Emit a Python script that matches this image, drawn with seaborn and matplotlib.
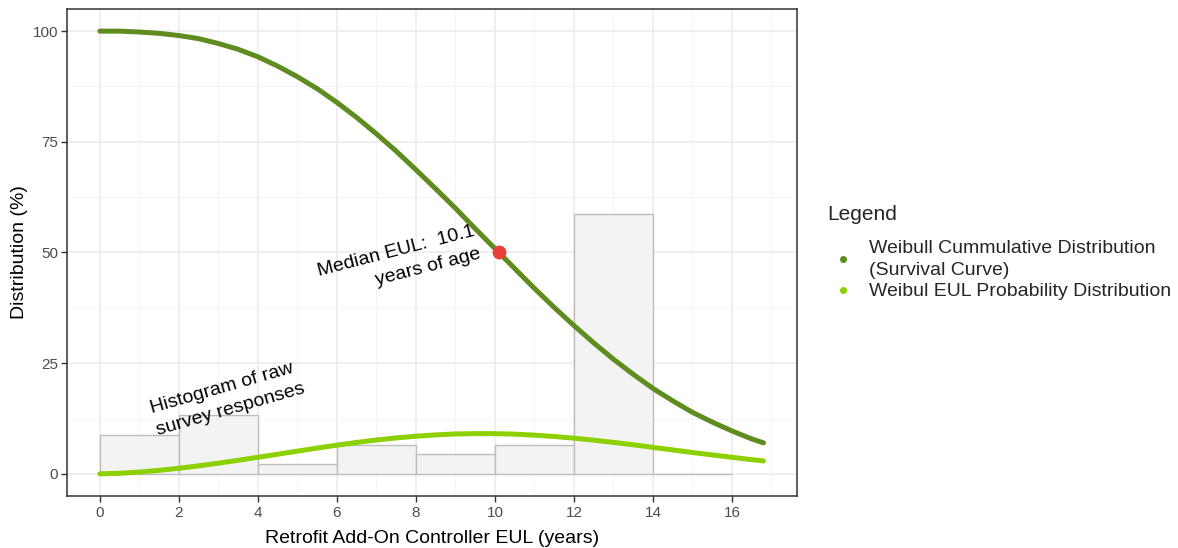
import numpy as np
import pandas as pd
import matplotlib
matplotlib.use("Agg")
import matplotlib.pyplot as plt
from matplotlib.lines import Line2D
import seaborn as sns

# histogram of raw survey responses (bin start, height in %)
bin_starts = [0, 2, 4, 6, 8, 10, 12, 14]
bin_heights = [8.8, 13.3, 2.3, 6.5, 4.5, 6.5, 58.8, 0.0]

# curves (years -> %)
years = [0, 0.5, 1, 1.5, 2, 2.5, 3, 3.5, 4, 4.5, 5, 5.5, 6, 6.5, 7, 7.5, 8, 8.5,
         9, 9.5, 10, 10.5, 11, 11.5, 12, 12.5, 13, 13.5, 14, 14.5, 15, 15.5,
         16, 16.5, 16.8]
survival = [100.0, 100.0, 99.8, 99.5, 99.0, 98.3, 97.2, 95.9, 94.2, 92.1,
            89.7, 87.0, 83.9, 80.5, 76.8, 72.9, 68.7, 64.4, 60.0, 55.4,
            50.9, 46.4, 41.9, 37.6, 33.5, 29.6, 25.9, 22.5, 19.3, 16.5,
            13.9, 11.7, 9.7, 7.9, 7.0]
eul_pdf = [0.0, 0.13, 0.41, 0.79, 1.26, 1.81, 2.41, 3.06, 3.74, 4.44,
           5.13, 5.82, 6.48, 7.09, 7.64, 8.12, 8.50, 8.80, 9.01, 9.09,
           9.08, 8.97, 8.74, 8.44, 8.06, 7.61, 7.11, 6.57, 5.98, 5.41,
           4.82, 4.28, 3.74, 3.20, 2.92]

median_eul = 10.1
median_pct = 50

x_ticks = [0, 2, 4, 6, 8, 10, 12, 14, 16]
y_ticks = [0, 25, 50, 75, 100]

dark_green = "#5E8C1F"
light_green = "#8CD000"
red = "#E8413A"

sns.set_theme(style="white")
plt.rcParams['font.family'] = ['Liberation Sans', 'DejaVu Sans']

fig = plt.figure(figsize=(11.78, 5.48), dpi=100)
ax = fig.add_axes([0.0566, 0.0949, 0.6197, 0.8887])

hist_df = pd.DataFrame({"x": [b + 1 for b in bin_starts], "w": bin_heights})
sns.histplot(data=hist_df, x="x", weights="w", bins=list(range(0, 18, 2)),
             color="#F3F3F3", edgecolor="#BDBDBD", linewidth=1.0, alpha=1.0,
             ax=ax, zorder=2)

curve_df = pd.DataFrame({"years": years, "survival": survival, "pdf": eul_pdf})
sns.lineplot(data=curve_df, x="years", y="survival", color=dark_green,
             linewidth=3.6, ax=ax, zorder=3, solid_capstyle="round",
             solid_joinstyle="round")
sns.lineplot(data=curve_df, x="years", y="pdf", color=light_green,
             linewidth=3.6, ax=ax, zorder=3, solid_capstyle="round",
             solid_joinstyle="round")

ax.scatter([median_eul], [median_pct], s=100, color=red, zorder=5, linewidths=0)

ax.text(9.55, 52.3, "Median EUL:  10.1\nyears of age", rotation=14.5,
        rotation_mode="anchor", ha="right", va="center", multialignment="right",
        fontsize=14, color="black", zorder=6, linespacing=1.45)
ax.text(3.24, 17.0, "Histogram of raw\nsurvey responses", rotation=16,
        rotation_mode="anchor", ha="center", va="center", multialignment="left",
        fontsize=14, color="black", zorder=6, linespacing=1.45)

# ggplot theme_bw look
ax.set_xlim(-0.84, 17.64)
ax.set_ylim(-5, 105)
ax.set_xticks(x_ticks)
ax.set_yticks(y_ticks)
ax.set_xticks(np.arange(1, 18, 2), minor=True)
ax.set_yticks([12.5, 37.5, 62.5, 87.5], minor=True)
ax.grid(which="major", color="#EBEBEB", linewidth=1.1, zorder=0)
ax.grid(which="minor", color="#F2F2F2", linewidth=0.6, zorder=0)
ax.set_axisbelow(True)
for s in ax.spines.values():
    s.set_color("#333333")
    s.set_linewidth(1.1)
ax.tick_params(which="major", direction="out", length=4.5, width=1,
               color="#333333", labelcolor="#4D4D4D", labelsize=11,
               bottom=True, left=True, pad=1.8)
ax.tick_params(axis="x", which="major", pad=3)
ax.tick_params(which="minor", length=0)
ax.set_xlabel("Retrofit Add-On Controller EUL (years)", fontsize=14,
              color="black", labelpad=7)
ax.set_ylabel("Distribution (%)", fontsize=14, color="black", labelpad=3)

handles = [
    Line2D([], [], marker="o", linestyle="", color=dark_green, markersize=4),
    Line2D([], [], marker="o", linestyle="", color=light_green, markersize=4),
]
labels = ["Weibull Cummulative Distribution\n(Survival Curve)",
          "Weibul EUL Probability Distribution"]
leg = fig.legend(handles, labels, title="Legend", loc="upper left",
                 bbox_to_anchor=(0.6875, 0.657), frameon=False, fontsize=14,
                 title_fontsize=15, handletextpad=0.55, labelspacing=0.2,
                 handlelength=1.6)
leg._legend_box.align = "left"
leg._legend_box.sep = 11
for t in leg.get_texts():
    t.set_linespacing(1.4)

fig.savefig("out.png", dpi=100)
